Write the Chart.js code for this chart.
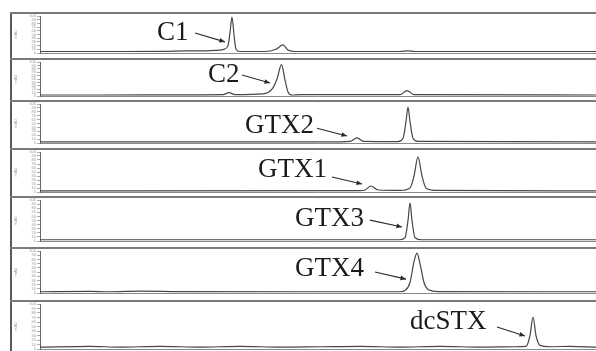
<html>
<head>
<meta charset="utf-8" />
<title>PSP toxin chromatograms</title>
<style>
body { margin: 0; background: #fff; }
#wrap { position: relative; width: 596px; height: 351px; overflow: hidden; background: #fff; }
.panel { position: absolute; left: 12px; width: 584px; }
.rule { position: absolute; left: 10px; width: 586px; height: 2px; background: #7a7a7a; }
.label { position: absolute; font-family: "Liberation Serif", "Times New Roman", serif; font-size: 27px; line-height: 27px; color: #1b1b1b; white-space: nowrap; }
</style>
</head>
<body>
<div id="wrap">
    <div style="position:absolute;left:10px;top:12px;width:2px;height:339px;background:#5a5a5a"></div>
</div>

<script src="https://cdn.jsdelivr.net/npm/chart.js"></script>
<script>
// toxin standards, one chromatogram each (retention time, relative signal %)
const toxins = ['C1', 'C2', 'GTX2', 'GTX1', 'GTX3', 'GTX4', 'dcSTX'];

const c1Time = [0, 8, 12.5, 14.5, 16, 17.5, 18.4, 18.8, 19.0, 19.2, 19.4, 19.6, 20.0, 22.5, 23.6, 24.3, 24.8, 25.5, 36, 36.8, 37.5, 55.6];
const c1Signal = [4, 4, 4.5, 6, 5.5, 7, 10, 20, 55, 97, 50, 10, 4, 4, 10, 22, 8, 4, 4, 6, 4, 4];

const c2Time = [0, 6, 15, 18.3, 18.9, 19.5, 22.3, 23.2, 23.7, 24.15, 24.5, 24.8, 25.2, 26, 36, 36.7, 37.4, 55.6];
const c2Signal = [3, 3, 3.5, 4, 10, 4, 6, 20, 50, 92, 47, 12, 3, 4, 4, 16, 4, 3];

const gtx2Time = [0, 30, 31, 31.7, 32.4, 35.8, 36.3, 36.6, 36.8, 37.0, 37.3, 37.8, 55.6];
const gtx2Signal = [3, 3, 4, 13, 4, 3.5, 12, 55, 92, 55, 12, 4, 3];

const gtx1Time = [0, 32, 32.5, 33.1, 33.8, 36, 37.0, 37.4, 37.8, 38.2, 38.6, 39.5, 55.6];
const gtx1Signal = [3, 3.5, 5, 15, 5, 4, 10, 40, 88, 40, 10, 4, 3];

const gtx3Time = [0, 36.0, 36.5, 36.8, 37.0, 37.2, 37.5, 38.2, 55.6];
const gtx3Signal = [3, 3, 8, 50, 93, 50, 8, 3, 3];

const gtx4Time = [0, 5, 7, 10, 14, 30, 36.0, 36.5, 37.0, 37.4, 37.7, 38.0, 38.4, 38.9, 39.8, 55.6];
const gtx4Signal = [3, 4, 3, 4.5, 3.5, 3, 3, 6, 25, 75, 95, 70, 25, 7, 3.5, 3];

const dcstxTime = [0, 5, 8, 12, 16, 20, 24, 28, 32, 36, 40, 44, 47.5, 48.6, 49.0, 49.3, 49.6, 50.0, 51, 53, 55.6];
const dcstxSignal = [4, 6, 4, 6, 4, 6, 4, 5, 6, 4, 6, 4, 5, 6, 30, 71, 30, 8, 5, 6, 4];

const traceTimes = [c1Time, c2Time, gtx2Time, gtx1Time, gtx3Time, gtx4Time, dcstxTime];
const traceSignals = [c1Signal, c2Signal, gtx2Signal, gtx1Signal, gtx3Signal, gtx4Signal, dcstxSignal];

// arrows in data units: [fromTime, fromSignal, toTime, toSignal]
const arrows = [
    [15.5, 54, 18.5, 30],
    [20.2, 62, 23.0, 38],
    [27.7, 38, 30.7, 18],
    [29.2, 37.5, 32.2, 20],
    [33.0, 51, 36.2, 34],
    [33.5, 50, 36.6, 33],
    [45.7, 49, 48.5, 29]
];

// page layout (px)
const panelTops = [12, 58, 100, 148, 196, 247, 300];
const panelBase = [53, 96, 143, 192, 241, 293, 349];
const labelLeft = [157, 208, 245, 258, 295, 295, 410];
const labelBaseline = [41, 83, 134, 178, 227, 277, 330];

const wrap = document.getElementById('wrap');

const arrowPlugin = {
    id: 'peakArrow',
    afterDatasetsDraw(chart, args, opts) {
        const a = opts.arrow;
        if (!a) return;
        const ctx = chart.ctx;
        const x1 = chart.scales.x.getPixelForValue(a[0]);
        const y1 = chart.scales.y.getPixelForValue(a[1]);
        const x2 = chart.scales.x.getPixelForValue(a[2]);
        const y2 = chart.scales.y.getPixelForValue(a[3]);
        const ang = Math.atan2(y2 - y1, x2 - x1);
        ctx.save();
        ctx.strokeStyle = '#2a2a2a';
        ctx.fillStyle = '#2a2a2a';
        ctx.lineWidth = 1.1;
        ctx.beginPath();
        ctx.moveTo(x1, y1);
        ctx.lineTo(x2, y2);
        ctx.stroke();
        ctx.beginPath();
        ctx.moveTo(x2, y2);
        ctx.lineTo(x2 - 6 * Math.cos(ang - 0.4), y2 - 6 * Math.sin(ang - 0.4));
        ctx.lineTo(x2 - 6 * Math.cos(ang + 0.4), y2 - 6 * Math.sin(ang + 0.4));
        ctx.closePath();
        ctx.fill();
        ctx.restore();
    }
};

for (let i = 0; i < toxins.length; i++) {
    const top = panelTops[i];
    const next = i < panelTops.length - 1 ? panelTops[i + 1] : 351;

    const rule = document.createElement('div');
    rule.className = 'rule';
    rule.style.top = top + 'px';
    wrap.appendChild(rule);

    const box = document.createElement('div');
    box.className = 'panel';
    box.style.top = (top + 2) + 'px';
    box.style.height = (next - top - 2) + 'px';
    const canvas = document.createElement('canvas');
    box.appendChild(canvas);
    wrap.appendChild(box);

    const points = traceTimes[i].map((t, k) => ({ x: t, y: traceSignals[i][k] }));

    new Chart(canvas, {
        type: 'line',
        data: {
            datasets: [{
                label: toxins[i],
                data: points,
                borderColor: '#474747',
                borderWidth: 1.2,
                pointRadius: 0,
                cubicInterpolationMode: 'monotone'
            }]
        },
        options: {
            responsive: true,
            maintainAspectRatio: false,
            animation: false,
            layout: { padding: { top: 2, bottom: next - panelBase[i], left: 0, right: 0 } },
            plugins: {
                legend: { display: false },
                tooltip: { enabled: false },
                peakArrow: { arrow: arrows[i] }
            },
            scales: {
                x: {
                    type: 'linear',
                    min: 0,
                    max: 55.6,
                    grid: { display: false },
                    ticks: { display: false },
                    border: { color: '#8a8a8a', width: 1 },
                    afterFit: s => { s.height = 0; }
                },
                y: {
                    min: 0,
                    max: 100,
                    grid: { drawOnChartArea: false, drawTicks: true, tickLength: 3, color: '#aaa' },
                    border: { color: '#666', width: 1 },
                    ticks: { stepSize: 10, autoSkip: false, font: { size: 4 }, color: '#999', padding: 1 },
                    title: { display: true, text: 'mAU', font: { size: 4 }, color: '#999', padding: 1 },
                    afterFit: s => { s.width = 28; s.paddingTop = 0; s.paddingBottom = 0; }
                }
            }
        },
        plugins: [arrowPlugin]
    });

    const lab = document.createElement('div');
    lab.className = 'label';
    lab.textContent = toxins[i];
    lab.style.left = labelLeft[i] + 'px';
    lab.style.top = (labelBaseline[i] - 22.6) + 'px';
    wrap.appendChild(lab);
}
</script>
</body>
</html>
